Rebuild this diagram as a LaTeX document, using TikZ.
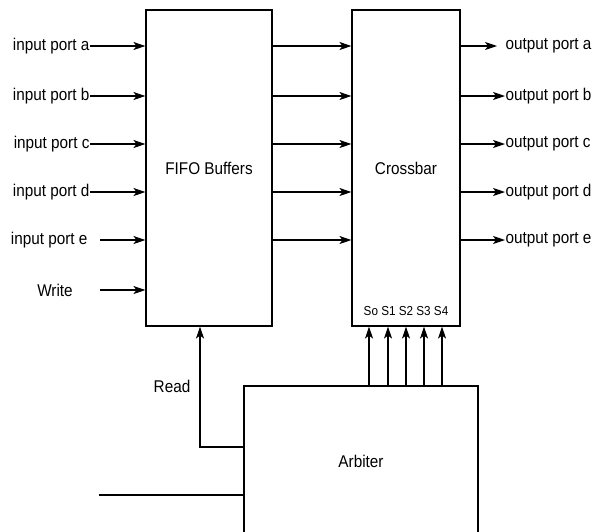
\documentclass[tikz,border=0pt]{standalone}
\usepackage{fontspec}
\setmainfont{Liberation Sans}[FakeStretch=0.9]
\usetikzlibrary{arrows.meta}

\begin{document}
\begin{tikzpicture}[x=1pt, y=-1pt, line width=1.1pt,
    >={Stealth[length=12pt, width=8pt, inset=3pt]},
    block/.style={draw, minimum height=316pt, inner sep=0pt},
    lbl/.style={inner sep=0pt, font=\fontsize{17}{20}\selectfont},
    sel/.style={inner sep=0pt, font=\fontsize{13}{15}\selectfont}]
    \useasboundingbox (0,0) rectangle (596,531);
    % the three blocks
    \node[block, minimum width=126pt, lbl] (fifo) at (209,168) {FIFO Buffers};
    \node[block, minimum width=108pt, lbl] (xbar) at (406,168) {Crossbar};
    \node[draw, minimum width=234pt, minimum height=150pt, lbl] (arb) at (361,461) {Arbiter};
    % inputs into the buffers
    \foreach \y/\p in {46/a, 96/b, 144/c, 192/d} {
        \node[lbl, anchor=east] (in\p) at (90,\y) {input port \p};
        \draw[->] (in\p.east) -- (fifo.west |- in\p.east);
    }
    \node[lbl, anchor=east] (ine) at (88,240) {input port e};
    \coordinate (ine-start) at (100,240);
    \draw[->] (ine-start) -- (fifo.west |- ine-start);
    \node[lbl] (write) at (55,290) {Write};
    \coordinate (write-start) at (100,290);
    \draw[->] (write-start) -- (fifo.west |- write-start);
    % buffers to crossbar
    \foreach \y in {46, 96, 144, 192, 240}
        \draw[->] (fifo.east |- 0,\y) -- (xbar.west |- 0,\y);
    % outputs
    \node[lbl, anchor=west] (outa) at (505,46) {output port a};
    \coordinate (outa-end) at (497,46);
    \draw[->] (xbar.east |- outa-end) -- (outa-end);
    \foreach \y/\p in {96/b, 144/c, 192/d, 240/e} {
        \node[lbl, anchor=west] (out\p) at (505,\y) {output port \p};
        \draw[->] (xbar.east |- out\p.west) -- (out\p.west);
    }
    % select lines from the arbiter
    \node[sel] (sels) at (406,311) {So S1 S2 S3 S4};
    \foreach \x in {369, 388, 406, 424, 442}
        \draw[->] (\x,0 |- arb.north) -- (\x,0 |- xbar.south);
    % read line
    \node[lbl] (read) at (172,386) {Read};
    \coordinate (rd) at (200,447);
    \draw[->] (arb.west |- rd) -- (rd) -- (fifo.south -| rd);
    \coordinate (feed) at (99,495);
    \draw (feed) -- (arb.west |- feed);
\end{tikzpicture}
\end{document}
